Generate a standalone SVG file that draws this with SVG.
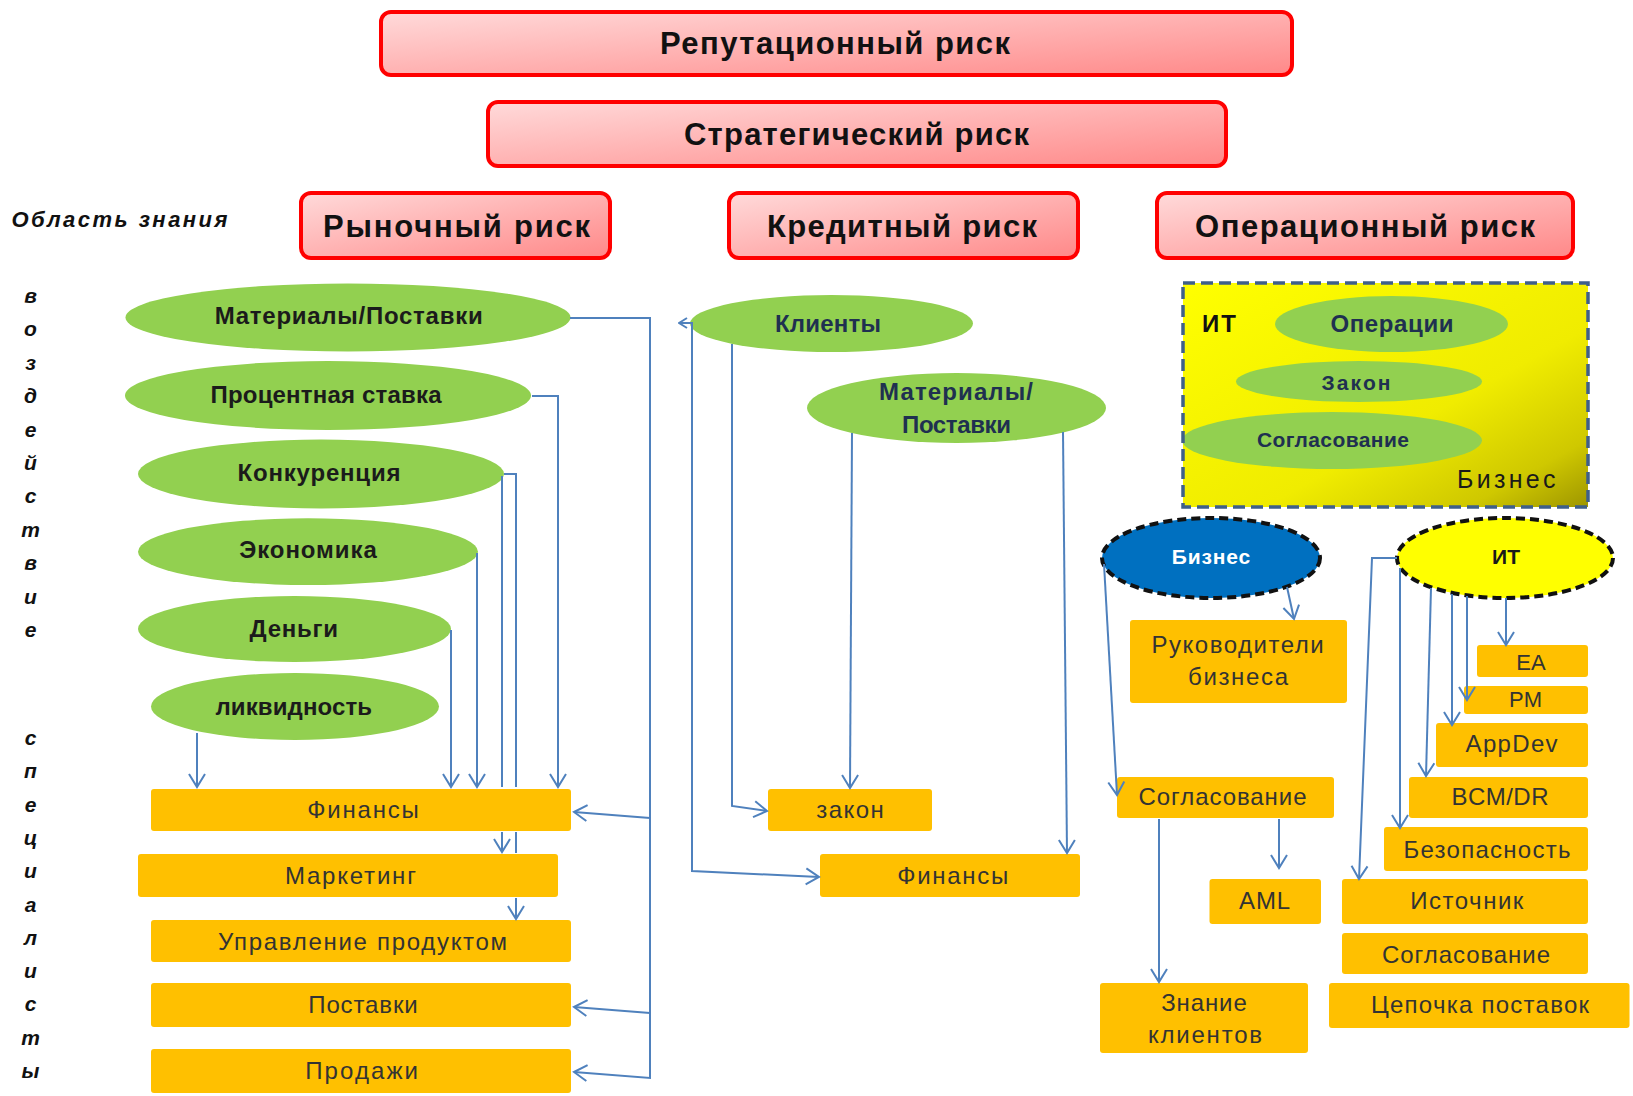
<svg xmlns="http://www.w3.org/2000/svg" width="1633" height="1096" viewBox="0 0 1633 1096">
<defs>
<linearGradient id="gRed" x1="0" y1="0" x2="1" y2="1"><stop offset="0" stop-color="#ffdada"/><stop offset="1" stop-color="#ff8888"/></linearGradient>
<linearGradient id="gYel" x1="0" y1="0" x2="1" y2="1"><stop offset="0" stop-color="#ffff00"/><stop offset="0.6" stop-color="#f0ec00"/><stop offset="0.85" stop-color="#cfc800"/><stop offset="1" stop-color="#9e9600"/></linearGradient>
<marker id="arr" markerUnits="userSpaceOnUse" markerWidth="16" markerHeight="20" viewBox="-14 -10 16 20" refX="0" refY="0" orient="auto"><path d="M-13,-8 L0,0 L-13,8" fill="none" stroke="#4f81bd" stroke-width="2"/></marker>
<marker id="arrS" markerUnits="userSpaceOnUse" markerWidth="10" markerHeight="12" viewBox="-9 -6 10 12" refX="0" refY="0" orient="auto-start-reverse"><path d="M-8,-5 L0,0 L-8,5" fill="none" stroke="#4f81bd" stroke-width="2"/></marker>
<style>
text{font-family:"Liberation Sans",Arial,sans-serif}
.hdr{fill:url(#gRed);stroke:#ff0000;stroke-width:4}
.ht{font-size:31px;font-weight:bold;fill:#111;text-anchor:middle}
.ell{fill:#92d050}
.box{fill:#ffc000}
.et{font-size:24px;font-weight:bold;fill:#1b1b1b;text-anchor:middle}
.et2{font-size:24px;font-weight:bold;fill:#1f3050;text-anchor:middle}
.et3{font-size:21px;font-weight:bold;fill:#1f3050;text-anchor:middle}
.bt{font-size:24px;fill:#333;text-anchor:middle}
.side{font-size:21px;font-weight:bold;font-style:italic;fill:#111;text-anchor:middle}
.dash{fill:none;stroke:#111;stroke-width:4;stroke-dasharray:9 5}
.conn path{fill:none;stroke:#4f81bd;stroke-width:2}
</style>
</defs>
<rect width="1633" height="1096" fill="#ffffff"/>

<g id="n-reput"><rect class="hdr" x="381" y="12" width="911" height="63" rx="10"/><text class="ht" x="835" y="54" textLength="350">Репутационный риск</text></g>
<g id="n-strat"><rect class="hdr" x="488" y="102" width="738" height="64" rx="10"/><text class="ht" x="856.5" y="145" textLength="345">Стратегический риск</text></g>
<g id="n-market"><rect class="hdr" x="301" y="193" width="309" height="65" rx="10"/><text class="ht" x="456.5" y="236.5" textLength="267">Рыночный риск</text></g>
<g id="n-credit"><rect class="hdr" x="729" y="193" width="349" height="65" rx="10"/><text class="ht" x="902" y="236.5" textLength="270">Кредитный риск</text></g>
<g id="n-oper"><rect class="hdr" x="1157" y="193" width="416" height="65" rx="10"/><text class="ht" x="1365" y="236.5" textLength="340">Операционный риск</text></g>

<g id="side-labels">
<text x="11.5" y="226.7" textLength="216" style="font-size:22px;font-weight:bold;font-style:italic;fill:#111">Область знания</text>
<text class="side"><tspan x="30.5" y="303">в</tspan><tspan x="30.5" y="336.4">о</tspan><tspan x="30.5" y="369.8">з</tspan><tspan x="30.5" y="403.2">д</tspan><tspan x="30.5" y="436.6">е</tspan><tspan x="30.5" y="470">й</tspan><tspan x="30.5" y="503.4">с</tspan><tspan x="30.5" y="536.8">т</tspan><tspan x="30.5" y="570.2">в</tspan><tspan x="30.5" y="603.6">и</tspan><tspan x="30.5" y="637">е</tspan></text>
<text class="side"><tspan x="30.5" y="745">с</tspan><tspan x="30.5" y="778.3">п</tspan><tspan x="30.5" y="811.6">е</tspan><tspan x="30.5" y="844.9">ц</tspan><tspan x="30.5" y="878.2">и</tspan><tspan x="30.5" y="911.5">а</tspan><tspan x="30.5" y="944.8">л</tspan><tspan x="30.5" y="978.1">и</tspan><tspan x="30.5" y="1011.4">с</tspan><tspan x="30.5" y="1044.7">т</tspan><tspan x="30.5" y="1078">ы</tspan></text>
</g>

<g id="e-materials"><ellipse class="ell" cx="348" cy="317.5" rx="222.5" ry="34"/><text class="et" x="348.7" y="324" textLength="268">Материалы/Поставки</text></g>
<g id="e-rate"><ellipse class="ell" cx="328" cy="395.5" rx="203" ry="34.5"/><text class="et" x="326" y="402.7" textLength="231">Процентная ставка</text></g>
<g id="e-compet"><ellipse class="ell" cx="321" cy="474" rx="183" ry="34.5"/><text class="et" x="319" y="480.7" textLength="163">Конкуренция</text></g>
<g id="e-econ"><ellipse class="ell" cx="308" cy="551.7" rx="170" ry="33.4"/><text class="et" x="308" y="558" textLength="137.6">Экономика</text></g>
<g id="e-money"><ellipse class="ell" cx="294.5" cy="629" rx="156.5" ry="33"/><text class="et" x="293.8" y="636.7" textLength="88.4">Деньги</text></g>
<g id="e-liq"><ellipse class="ell" cx="295" cy="706.5" rx="144" ry="33.5"/><text class="et" x="293.8" y="715" textLength="156.6">ликвидность</text></g>

<g id="b-fin1"><rect class="box" x="151" y="789" width="420" height="42" rx="3"/><text class="bt" x="363" y="818.3" textLength="111.5">Финансы</text></g>
<g id="b-mkt"><rect class="box" x="138" y="854" width="420" height="43" rx="3"/><text class="bt" x="350.4" y="884" textLength="131">Маркетинг</text></g>
<g id="b-prod"><rect class="box" x="151" y="920" width="420" height="42" rx="3"/><text class="bt" x="362.6" y="950" textLength="289">Управление продуктом</text></g>
<g id="b-supply"><rect class="box" x="151" y="983" width="420" height="44" rx="3"/><text class="bt" x="363" y="1013" textLength="109.5">Поставки</text></g>
<g id="b-sales"><rect class="box" x="151" y="1049" width="420" height="44" rx="3"/><text class="bt" x="361.6" y="1079" textLength="112.8">Продажи</text></g>

<g id="e-clients"><ellipse class="ell" cx="831.5" cy="323.5" rx="141.5" ry="28.5"/><text class="et2" x="828" y="331.7" textLength="106">Клиенты</text></g>
<g id="e-materials2"><ellipse class="ell" cx="956.5" cy="408" rx="149.5" ry="35"/><text class="et2" x="956" y="400" textLength="154">Материалы/</text><text class="et2" x="956.5" y="432.7" textLength="109">Поставки</text></g>
<g id="b-law"><rect class="box" x="768" y="789" width="164" height="42" rx="3"/><text class="bt" x="850" y="818" textLength="67.7">закон</text></g>
<g id="b-fin2"><rect class="box" x="820" y="854" width="260" height="43" rx="3"/><text class="bt" x="952.7" y="884" textLength="111">Финансы</text></g>

<g id="n-itbiz">
<rect x="1183" y="283" width="405" height="224" fill="url(#gYel)"/>
<ellipse class="ell" cx="1391.5" cy="324" rx="116.5" ry="28"/><text class="et2" x="1392" y="331.7" textLength="123">Операции</text>
<ellipse class="ell" cx="1359" cy="381.5" rx="123" ry="20.5"/><text class="et3" x="1356" y="390" textLength="69">Закон</text>
<ellipse class="ell" cx="1332" cy="440.5" rx="150" ry="28.5"/><text class="et3" x="1333" y="447" textLength="152">Согласование</text>
<text x="1202" y="331.7" textLength="34" style="font-size:24px;font-weight:bold;fill:#111">ИТ</text>
<text x="1457" y="488" textLength="98.5" style="font-size:25px;fill:#1a1a1a">Бизнес</text>
<rect x="1183" y="283" width="405" height="224" fill="none" stroke="#3e5f8a" stroke-width="3.5" stroke-dasharray="12 6"/>
</g>

<g id="e-biz"><ellipse cx="1211" cy="558" rx="109" ry="40" fill="#0070c0"/><ellipse class="dash" cx="1211" cy="558" rx="109" ry="40"/><text x="1211" y="564" textLength="78.6" style="font-size:21px;font-weight:bold;fill:#ffffff;text-anchor:middle">Бизнес</text></g>
<g id="e-it"><ellipse cx="1505" cy="558" rx="108" ry="40" fill="#ffff00"/><ellipse class="dash" cx="1505" cy="558" rx="108" ry="40"/><text x="1506" y="564" style="font-size:21px;font-weight:bold;fill:#1a1a1a;text-anchor:middle">ИТ</text></g>

<g id="b-heads"><rect class="box" x="1130" y="620" width="217" height="83" rx="3"/><text class="bt" x="1237.6" y="652.7" textLength="172">Руководители</text><text class="bt" x="1238" y="685" textLength="100">бизнеса</text></g>
<g id="b-compl1"><rect class="box" x="1117" y="777" width="217" height="41" rx="3"/><text class="bt" x="1222.5" y="805" textLength="168">Согласование</text></g>
<g id="b-aml"><rect class="box" x="1209.5" y="879" width="111.5" height="45" rx="3"/><text class="bt" x="1264.6" y="909" textLength="51">AML</text></g>
<g id="b-kyc"><rect class="box" x="1100" y="983" width="208" height="70" rx="3"/><text class="bt" x="1204" y="1010.7" textLength="85.5">Знание</text><text class="bt" x="1205" y="1043" textLength="114">клиентов</text></g>

<g id="b-ea"><rect class="box" x="1477" y="645" width="111" height="32" rx="3"/><text class="bt" x="1531" y="670" style="font-size:22px">EA</text></g>
<g id="b-pm"><rect class="box" x="1464" y="686" width="124" height="28" rx="3"/><text class="bt" x="1525.6" y="707" style="font-size:22px">PM</text></g>
<g id="b-appdev"><rect class="box" x="1436" y="723" width="152" height="44" rx="3"/><text class="bt" x="1511.6" y="751.7" textLength="92">AppDev</text></g>
<g id="b-bcm"><rect class="box" x="1409" y="777" width="179" height="41" rx="3"/><text class="bt" x="1500" y="805" textLength="97">BCM/DR</text></g>
<g id="b-sec"><rect class="box" x="1384" y="827" width="204" height="44" rx="3"/><text class="bt" x="1487" y="858.3" textLength="167">Безопасность</text></g>
<g id="b-source"><rect class="box" x="1342" y="879" width="246" height="45" rx="3"/><text class="bt" x="1466.8" y="909" textLength="113">Источник</text></g>
<g id="b-compl2"><rect class="box" x="1342" y="933" width="246" height="41" rx="3"/><text class="bt" x="1466" y="962.7" textLength="168">Согласование</text></g>
<g id="b-chain"><rect class="box" x="1329" y="983" width="300.5" height="45" rx="3"/><text class="bt" x="1480" y="1012.7" textLength="218">Цепочка поставок</text></g>

<g id="connectors" class="conn">
<path d="M570 318 H650 V1078 L574 1072" marker-end="url(#arr)"/>
<path d="M650 818 L574 812" marker-end="url(#arr)"/>
<path d="M650 1013 L574 1007" marker-end="url(#arr)"/>
<path d="M532 396 H558 V787" marker-end="url(#arr)"/>
<path d="M504 474 H516 V787 M516 832 V853 M516 898 V919" marker-end="url(#arr)"/>
<path d="M502 476 V787 M502 832 V852" marker-end="url(#arr)"/>
<path d="M477 553 V787" marker-end="url(#arr)"/>
<path d="M451 630 V787" marker-end="url(#arr)"/>
<path d="M197 733 V787" marker-end="url(#arr)"/>
<path d="M679 323 H692 V871 L819 877" marker-start="url(#arrS)" marker-end="url(#arr)"/>
<path d="M732 344 V806 L767 811" marker-end="url(#arr)"/>
<path d="M852 433 L850 788" marker-end="url(#arr)"/>
<path d="M1063 432 L1067 853" marker-end="url(#arr)"/>
<path d="M1287 587 L1294 619" marker-end="url(#arr)"/>
<path d="M1104 564 L1117 795" marker-end="url(#arr)"/>
<path d="M1279 819 V868" marker-end="url(#arr)"/>
<path d="M1159 819 V982" marker-end="url(#arr)"/>
<path d="M1397 558 H1372 L1359 879" marker-end="url(#arr)"/>
<path d="M1400 568 V828" marker-end="url(#arr)"/>
<path d="M1431 588 L1426 776" marker-end="url(#arr)"/>
<path d="M1452 594 V725" marker-end="url(#arr)"/>
<path d="M1467 596 V700" marker-end="url(#arr)"/>
<path d="M1506 598 V645" marker-end="url(#arr)"/>
</g>
</svg>
